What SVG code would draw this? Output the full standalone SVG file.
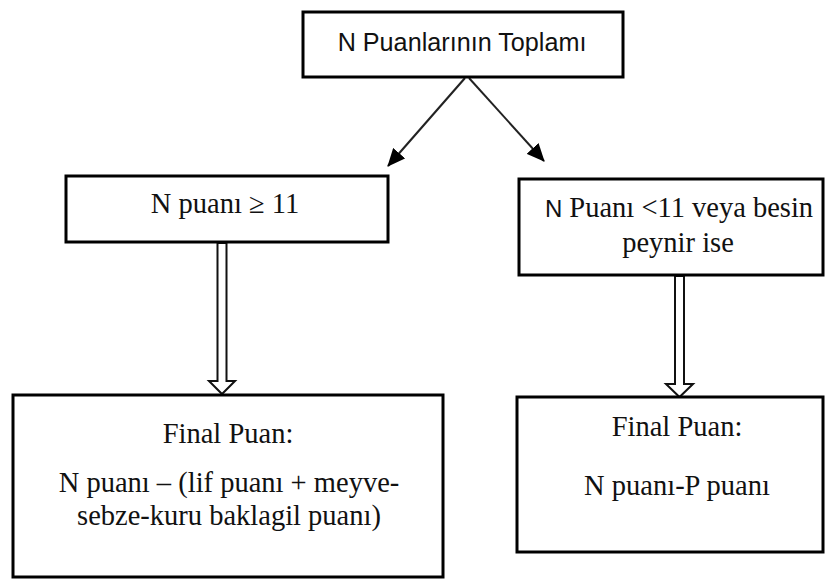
<svg xmlns="http://www.w3.org/2000/svg" width="828" height="579" viewBox="0 0 828 579">
<style>
.box{fill:#fff;stroke:#000;stroke-width:3}
.t{font-family:"Liberation Serif","Times New Roman",serif;font-size:28.5px;fill:#111;text-anchor:middle}
.s{font-family:"Liberation Sans",Arial,sans-serif}
.ln{stroke:#222;stroke-width:2;fill:none}
.ha{fill:#fff;stroke:#111;stroke-width:2;stroke-linejoin:miter}
</style>
<defs>
<marker id="ah2" markerWidth="18" markerHeight="16" refX="17" refY="8" orient="auto" markerUnits="userSpaceOnUse" viewBox="0 0 18 16">
<path d="M0,0 L18,8 L0,16 Z" fill="#000"/>
</marker>
</defs>
<g id="connectors">
<line class="ln" x1="465" y1="78" x2="388" y2="166" marker-end="url(#ah2)"/>
<line class="ln" x1="469" y1="78" x2="544" y2="161" marker-end="url(#ah2)"/>
<path class="ha" d="M217.5,243 L217.5,381 L209,381 L222,394 L235,381 L226.5,381 L226.5,243 Z"/>
<path class="ha" d="M675,276 L675,384 L666,384 L679.5,397 L693,384 L684,384 L684,276 Z"/>
</g>
<g id="node-top">
<rect class="box" x="303" y="12" width="320" height="65"/>
<text class="s" x="462" y="51" font-size="25.2" text-anchor="middle" fill="#111">N Puanlarının Toplamı</text>
</g>
<g id="node-left">
<rect class="box" x="66" y="176" width="322" height="66"/>
<text class="t" x="225" y="213">N puanı ≥ 11</text>
</g>
<g id="node-right">
<rect class="box" x="519" y="179" width="304" height="96"/>
<text class="t" x="679" y="217"><tspan class="s" font-size="24">N</tspan> Puanı &lt;11 veya besin</text>
<text class="t" x="678" y="252">peynir ise</text>
</g>
<g id="node-final-left">
<rect class="box" x="13" y="395" width="430" height="182"/>
<text class="t" x="228" y="443">Final Puan:</text>
<text class="t" x="229" y="492">N puanı – (lif puanı + meyve-</text>
<text class="t" x="229" y="525">sebze-kuru baklagil puanı)</text>
</g>
<g id="node-final-right">
<rect class="box" x="517" y="397" width="306" height="155"/>
<text class="t" x="677" y="436">Final Puan:</text>
<text class="t" x="677" y="495">N puanı-P puanı</text>
</g>
</svg>
